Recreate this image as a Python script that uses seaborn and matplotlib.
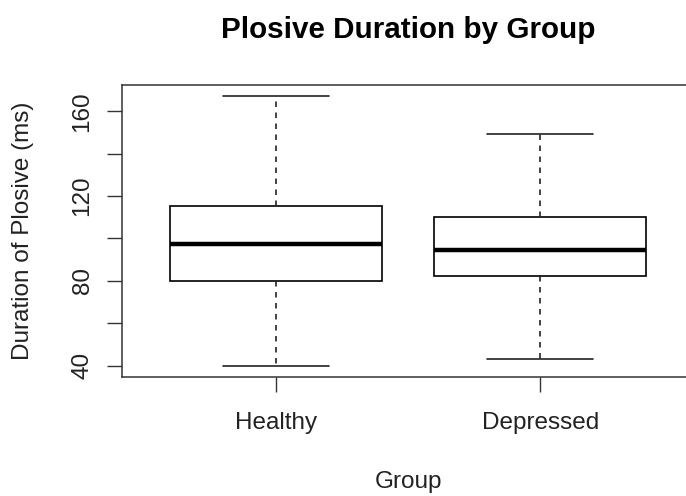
import numpy as np
import pandas as pd
import matplotlib
matplotlib.use("Agg")
import matplotlib.pyplot as plt
import seaborn as sns

# Data (five-number summaries per group)
groups = ["Healthy", "Depressed"]
healthy_stats = [39.7, 79.7, 97.5, 115.5, 167.3]     # min, Q1, median, Q3, max
depressed_stats = [43.2, 82.4, 94.7, 110.1, 149.3]
y_ticks = [40, 60, 80, 100, 120, 140, 160]
y_tick_labels = ["40", "", "80", "", "120", "", "160"]

title = "Plosive Duration by Group"
x_label = "Group"
y_label = "Duration of Plosive (ms)"

df = pd.DataFrame({
    "Group": [groups[0]] * len(healthy_stats) + [groups[1]] * len(depressed_stats),
    "Duration": healthy_stats + depressed_stats,
})

sns.set_style("white")
plt.rcParams["font.family"] = ["Liberation Sans", "DejaVu Sans"]

fig = plt.figure(figsize=(6.86, 4.96), dpi=100)
W, H = 686, 496
left, right, top, bottom = 122, 694, 85, 377
ax = fig.add_axes([left / W, 1 - bottom / H, (right - left) / W, (bottom - top) / H])

lw = 1.2
sns.boxplot(
    data=df, x="Group", y="Duration", order=groups, ax=ax,
    whis=(0, 100), width=0.8, color="white", linecolor="black", linewidth=lw,
    showfliers=False,
    whiskerprops={"linestyle": (0, (3.3, 3.3)), "color": "#222222", "linewidth": lw},
    capprops={"color": "#222222", "linewidth": lw},
    medianprops={"color": "black", "linewidth": 3.2},
    boxprops={"edgecolor": "black", "facecolor": "white", "linewidth": lw},
)

vals = df["Duration"].to_numpy()
lo, hi = vals.min(), vals.max()
pad = 0.04 * (hi - lo)
ax.set_ylim(lo - pad, hi + pad)
ax.set_xlim(-0.58, 1.58)

ax.set_yticks(y_ticks)
ax.set_yticklabels(y_tick_labels)
for lab in ax.get_yticklabels():
    lab.set_rotation(90)
    lab.set_verticalalignment("center")

ax.tick_params(axis="both", which="both", direction="out", length=10.5, width=1.0,
               color="#333333", labelsize=17.5, labelcolor="#222222", left=True, bottom=True)
ax.tick_params(axis="y", pad=10)
ax.tick_params(axis="x", pad=15)

for sp in ax.spines.values():
    sp.set_visible(True)
    sp.set_color("#333333")
    sp.set_linewidth(1.1)

ax.set_xlabel(x_label, fontsize=17.5, color="#222222")
ax.xaxis.set_label_coords(0.5, (bottom - 482) / (bottom - top))
ax.xaxis.label.set_verticalalignment("center")
ax.set_ylabel(y_label, fontsize=17.5, color="#222222")
ax.yaxis.set_label_coords((23 - left) / (right - left), 0.5)
ax.yaxis.label.set_verticalalignment("center")

ax.set_title(title, fontsize=21.3, fontweight="bold", pad=33.5, color="black")

fig.savefig("out.png", dpi=100, facecolor="white")
